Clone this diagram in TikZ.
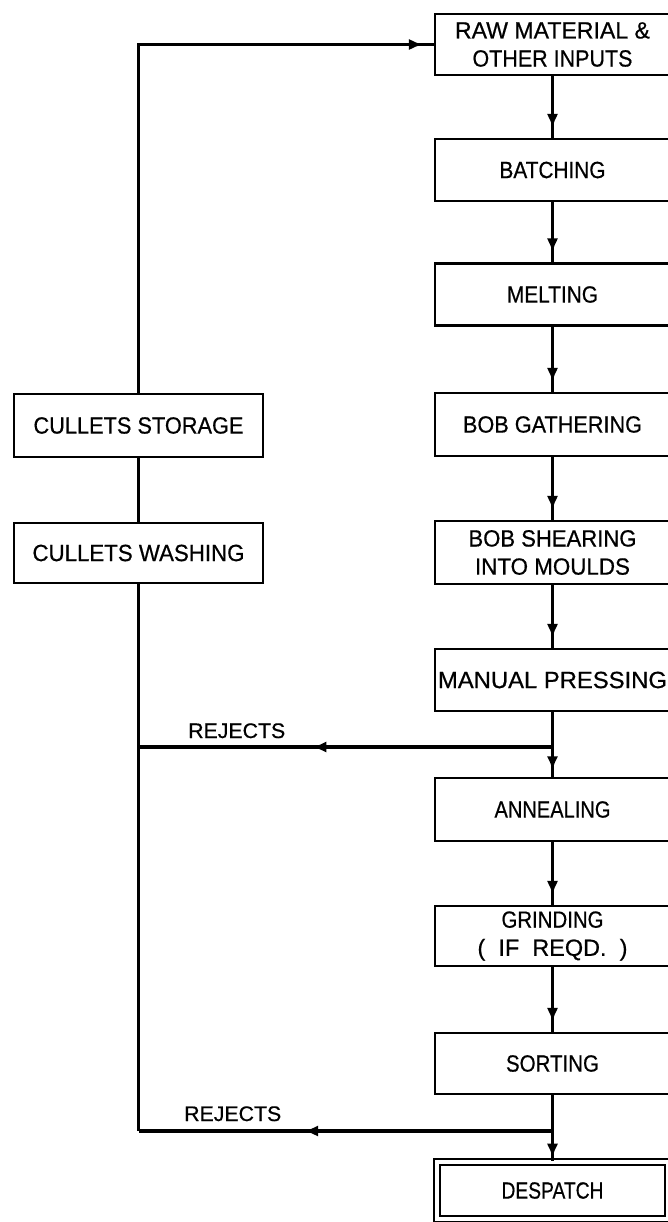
\documentclass[tikz,border=0pt]{standalone}
\usepackage{fontspec}
\setmainfont{Liberation Sans}
\newfontfamily\heavysans{Liberation Sans}[FakeBold=0.6]
\usetikzlibrary{arrows.meta,decorations.markings}
\newlength\pxu
\setlength\pxu{0.03cm}
% stretch a line of text to a given width, keeping its height
\newcommand\fitw[2]{\resizebox{#1\pxu}{\height}{#2}}
\newcommand\gap{\hspace{0.56em}}
\newcommand\boxfont{\heavysans\fontsize{20}{24}\selectfont}
\newcommand\rejfont{\heavysans\fontsize{18}{20}\selectfont}
\tikzset{
  x=0.03cm, y=-0.03cm,
  tipA/.tip={Latex[length=0.42cm,width=0.34cm]},
  conn/.style={line width=3pt},
  arrowat/.style={postaction={decorate},
    decoration={markings, mark=at position #1 with {\arrow{tipA}}}},
  stepbox/.style={draw, line width=1.8pt, minimum width=235\pxu,
    inner sep=0pt, align=center, font=\boxfont},
  sidebox/.style={stepbox, minimum width=249\pxu},
  endbox/.style={stepbox, minimum width=231\pxu, double,
    double distance=3.2pt, line width=1.6pt},
  rejlabel/.style={anchor=base west, inner sep=0pt, font=\rejfont}
}
\begin{document}
\begin{tikzpicture}
\useasboundingbox (0,0) rectangle (668,1222);
\clip (0,0) rectangle (668,1222);

% process steps
\node[stepbox, minimum height=61\pxu] (raw)    at (552.5,44.5)
  {\fitw{195}{RAW MATERIAL \&}\\\fitw{160}{OTHER INPUTS}};
\node[stepbox, minimum height=62\pxu] (batch)  at (552.5,170)   {\fitw{106}{BATCHING}};
\node[stepbox, minimum height=62\pxu] (melt)   at (552.5,294.5) {\fitw{91}{MELTING}};
\node[stepbox, minimum height=63\pxu] (gath)   at (552.5,424.5) {\fitw{179}{BOB GATHERING}};
\node[stepbox, minimum height=63\pxu] (shear)  at (552.5,552.5)
  {\fitw{168}{BOB SHEARING}\\\fitw{155}{INTO MOULDS}};
\node[stepbox, minimum height=62\pxu] (press)  at (552.5,680)   {\fitw{229}{MANUAL PRESSING}};
\node[stepbox, minimum height=63\pxu] (anneal) at (552.5,809.5) {\fitw{116}{ANNEALING}};
\node[stepbox, minimum height=60\pxu] (grind)  at (552.5,936)
  {\fitw{102}{GRINDING}\\\fitw{150}{(\gap IF\gap REQD.\gap)}};
\node[stepbox, minimum height=61\pxu] (sort)   at (552.5,1063.5) {\fitw{93}{SORTING}};
\node[endbox,  minimum height=57\pxu] (desp)   at (552.5,1190.5) {\fitw{102}{DESPATCH}};

% cullet recycling
\node[sidebox, minimum height=63\pxu] (stor) at (138.5,425.5) {\fitw{210}{CULLETS STORAGE}};
\node[sidebox, minimum height=60\pxu] (wash) at (138.5,553)   {\fitw{212}{CULLETS WASHING}};

% reject junctions
\coordinate (j1) at (552.5,747);
\coordinate (j2) at (552.5,1131);
\coordinate (k1) at (wash.south |- j1);
\coordinate (k2) at (wash.south |- j2);

% main flow
\draw[conn, arrowat=-0.3cm] (raw.south)   -- (batch.north);
\draw[conn, arrowat=-0.3cm] (batch.south) -- (melt.north);
\draw[conn, arrowat=-0.3cm] (melt.south)  -- (gath.north);
\draw[conn, arrowat=-0.3cm] (gath.south)  -- (shear.north);
\draw[conn, arrowat=-0.3cm] (shear.south) -- (press.north);
\draw[conn] (press.south) -- (j1);
\draw[conn, arrowat=-0.2cm] (j1) -- (anneal.north);
\draw[conn, arrowat=-0.3cm] (anneal.south) -- (grind.north);
\draw[conn, arrowat=-0.3cm] (grind.south)  -- (sort.north);
\draw[conn] (sort.south) -- (j2);
\draw[conn, arrowat=-0.1cm] (j2) -- (desp.north);

% rejects back to the cullet line
\draw[conn, arrowat=0.58] (j1) -- (k1);
\draw[conn, arrowat=0.6]  (j2) -- (k2);
\node[rejlabel] (rej1) at (188,738)  {\fitw{97}{REJECTS}};
\node[rejlabel] (rej2) at (184,1121) {\fitw{97}{REJECTS}};

% cullets line and return to raw material
\draw[conn] (wash.south) -- (k2);
\draw[conn] (stor.south) -- (wash.north);
\draw[conn, arrowat=-0.33cm] (stor.north) |- (raw.west);
\end{tikzpicture}
\end{document}
